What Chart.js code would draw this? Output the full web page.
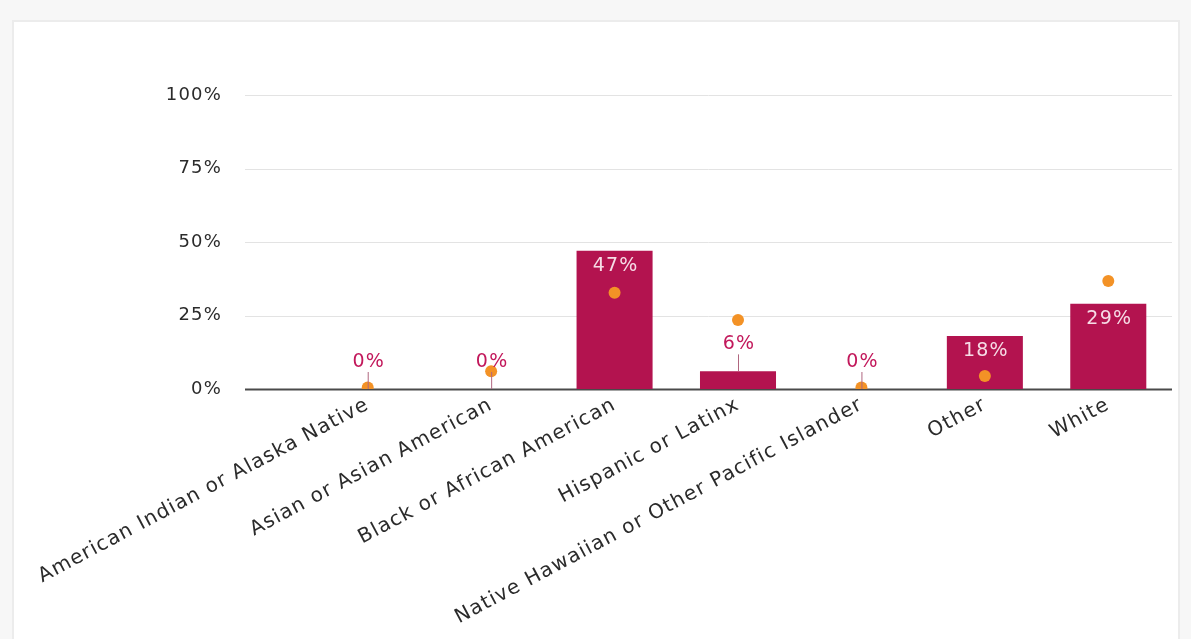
<!DOCTYPE html>
<html>
<head>
<meta charset="utf-8">
<script src="https://cdn.jsdelivr.net/npm/chart.js@4.4.1/dist/chart.umd.min.js"></script>
<style>
  html, body { margin: 0; padding: 0; background: #f7f7f7; }
  .card {
    position: absolute; left: 12px; top: 20px; width: 1168px; height: 640px;
    background: #fff; border: 2px solid #ececec; box-sizing: border-box;
  }
  #wrap { position: absolute; left: 0; top: 0; width: 1191px; height: 639px; }
</style>
</head>
<body>
<div class="card"></div>
<div id="wrap"><canvas id="raceChart"></canvas></div>
<script>
// Chart data
const categories = [
  'American Indian or Alaska Native',
  'Asian or Asian American',
  'Black or African American',
  'Hispanic or Latinx',
  'Native Hawaiian or Other Pacific Islander',
  'Other',
  'White'
];
const barValues = [0, 0, 47, 6, 0, 18, 29];
const dotValues = [0.5, 6, 32.7, 23.5, 0.5, 4.4, 36.7];
const yTicks = [0, 25, 50, 75, 100];

const BAR_COLOR = '#b3134f';
const DOT_COLOR = '#f39226';
const FONT = "'DejaVu Sans', sans-serif";
const SPACING = '1.2px';

/**
 * Wider letter spacing, closer to the original geometric font
 */
const letterSpacing = {
  id: 'letterSpacing',
  beforeLayout(chart) { chart.ctx.letterSpacing = SPACING; },
  beforeDraw(chart) { chart.ctx.letterSpacing = SPACING; }
};

/**
 * Value labels: inside the bar top when it fits, otherwise above with a short connector
 */
const valueLabels = {
  id: 'valueLabels',
  afterDatasetsDraw(chart) {
    const ctx = chart.ctx;
    const meta = chart.getDatasetMeta(1);
    ctx.save();
    ctx.font = '19px ' + FONT;
    ctx.textAlign = 'center';
    ctx.textBaseline = 'middle';
    meta.data.forEach((bar, i) => {
      const text = barValues[i] + '%';
      const h = bar.base - bar.y;
      if (h > 34) {
        ctx.fillStyle = '#f6dce6';
        ctx.fillText(text, bar.x + 1, bar.y + 15);
      } else {
        const ly = bar.y - 27;
        ctx.strokeStyle = '#b0667f';
        ctx.lineWidth = 1;
        ctx.beginPath();
        ctx.moveTo(bar.x + 0.5, ly + 10);
        ctx.lineTo(bar.x + 0.5, bar.y);
        ctx.stroke();
        ctx.fillStyle = '#c2185b';
        ctx.fillText(text, bar.x + 1, ly);
      }
    });
    ctx.restore();
  }
};

/**
 * Horizontal grid lines reach further left than the plot area
 */
const gridLines = {
  id: 'gridLines',
  beforeDatasetsDraw(chart) {
    const ctx = chart.ctx;
    const y = chart.scales.y;
    ctx.save();
    yTicks.forEach(t => {
      const py = Math.round(y.getPixelForValue(t)) + 0.5;
      ctx.strokeStyle = t === 0 ? '#4a4a4a' : '#e3e3e3';
      ctx.lineWidth = t === 0 ? 2 : 1;
      ctx.beginPath();
      ctx.moveTo(245, py);
      ctx.lineTo(chart.chartArea.right + 2, py);
      ctx.stroke();
    });
    ctx.restore();
  }
};

new Chart(document.getElementById('raceChart'), {
  data: {
    labels: categories,
    datasets: [
      {
        type: 'line',
        data: dotValues,
        showLine: false,
        pointRadius: 6,
        pointHoverRadius: 6,
        pointBackgroundColor: DOT_COLOR,
        pointBorderWidth: 0,
        order: 0
      },
      {
        type: 'bar',
        data: barValues,
        backgroundColor: BAR_COLOR,
        categoryPercentage: 0.8,
        barPercentage: 0.77,
        order: 1
      }
    ]
  },
  options: {
    responsive: true,
    maintainAspectRatio: false,
    animation: false,
    layout: { padding: { top: 95, right: 21, left: 0, bottom: 0 } },
    plugins: {
      legend: { display: false },
      tooltip: { enabled: false }
    },
    scales: {
      x: {
        grid: { display: false, drawTicks: false },
        border: { display: false },
        ticks: {
          minRotation: 28,
          maxRotation: 28,
          autoSkip: false,
          padding: 4,
          color: '#2b2b2b',
          font: { family: FONT, size: 20 }
        },
        afterFit(scale) {
          scale.height = 639 - 389;
          scale.paddingLeft = 0;
          scale.paddingRight = 0;
        }
      },
      y: {
        min: 0,
        max: 100,
        afterBuildTicks(scale) {
          scale.ticks = yTicks.map(v => ({ value: v }));
        },
        grid: { display: false, drawTicks: false },
        border: { display: false },
        ticks: {
          padding: 84,
          color: '#2b2b2b',
          font: { family: FONT, size: 18 },
          callback: v => v + '%'
        },
        afterFit(scale) {
          scale.width = 306;
        }
      }
    }
  },
  plugins: [letterSpacing, gridLines, valueLabels]
});
</script>
</body>
</html>
